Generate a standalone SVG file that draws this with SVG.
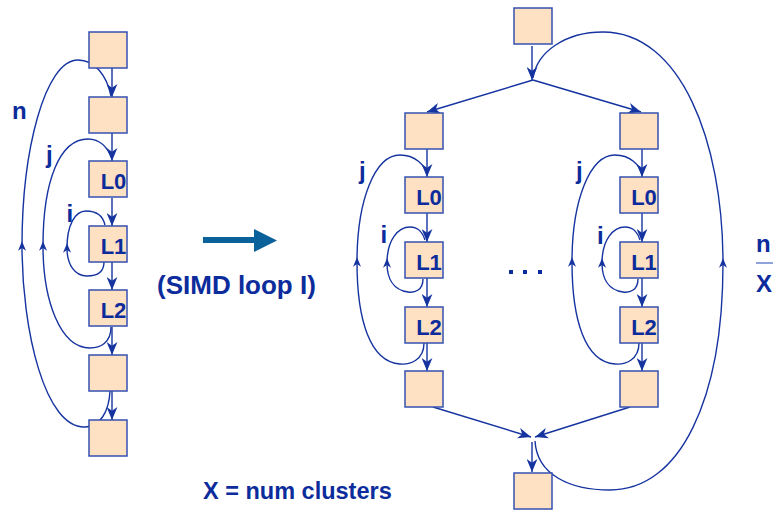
<svg xmlns="http://www.w3.org/2000/svg" width="778" height="511" viewBox="0 0 778 511">
  <style>
    .box { fill: #fee0c2; stroke: #3450b0; stroke-width: 1.5; }
    .lbl { font-family: "Liberation Sans", Arial, sans-serif; font-weight: bold; fill: #0c2c9c; }
    .box-lbl { font-size: 22px; text-anchor: middle; }
    .loop-lbl { font-size: 24px; }
    .edge { fill: none; stroke: #1634a0; stroke-width: 1.4; }
    .arr { marker-end: url(#head); }
    .up { marker-end: url(#headSmall); }
  </style>
  <defs>
    <marker id="head" viewBox="0 0 12 10" refX="12" refY="5" markerWidth="13" markerHeight="11" markerUnits="userSpaceOnUse" orient="auto">
      <path d="M0,0 L12,5 L0,10 L3.5,5 z" fill="#1634a0"/>
    </marker>
    <marker id="headSmall" viewBox="0 0 12 10" refX="6" refY="5" markerWidth="11" markerHeight="8" markerUnits="userSpaceOnUse" orient="auto">
      <path d="M0,0 L12,5 L0,10 L3.5,5 z" fill="#1634a0"/>
    </marker>
  </defs>

  <!-- connectors -->
  <g id="connectors">
    <!-- left: sequential loop nest -->
    <path class="edge arr" d="M112 68 V97"/>
    <path class="edge arr" d="M112 133 V161"/>
    <path class="edge arr" d="M112 198 V226"/>
    <path class="edge arr" d="M112 262 V290"/>
    <path class="edge arr" d="M112 327 V355"/>
    <path class="edge arr" d="M112 391 V420"/>
    <!-- n loop -->
    <path class="edge up" d="M110 391 C109 412 100 426 86 427 C45 430 22 330 22 246"/>
    <path class="edge" d="M22 246 C22 150 45 60 78 60 C95 60 107 76 111 96"/>
    <!-- j loop -->
    <path class="edge up" d="M111 327 C111 343 100 348 90 348 C60 348 43 300 43 246"/>
    <path class="edge" d="M43 246 C43 180 60 139 88 139 C100 139 108 148 112 159"/>
    <!-- i loop -->
    <path class="edge up" d="M104 262 C104 273 96 276 87 276 C75 276 67 265 67 248"/>
    <path class="edge" d="M67 248 C67 225 75 211 86 211 C96 211 103 216 105 225"/>

    <!-- transform arrow -->
    <path d="M203 240 H256" fill="none" stroke="#0b6199" stroke-width="6"/>
    <path d="M254 229 L277 240.5 L254 252 z" fill="#0b6199"/>

    <!-- right: fork -->
    <path class="edge arr" d="M532 46 V80"/>
    <path class="edge arr" d="M533 80 L427 112"/>
    <path class="edge arr" d="M533 80 L641 112"/>

    <!-- right: left cluster -->
    <path class="edge arr" d="M427 149 V177"/>
    <path class="edge arr" d="M427 213 V242"/>
    <path class="edge arr" d="M427 278 V307"/>
    <path class="edge arr" d="M427 343 V371"/>
    <path class="edge up" d="M424 343 C424 360 410 365 400 364 C370 362 357 320 357 262"/>
    <path class="edge" d="M357 262 C357 200 375 155 400 155 C415 155 425 165 427 175"/>
    <path class="edge up" d="M423 279 C423 290 415 293 408 292 C393 290 387 278 387 263"/>
    <path class="edge" d="M387 263 C387 240 398 227 410 227 C418 227 423 233 425 240"/>

    <!-- right: right cluster -->
    <g transform="translate(215 0)">
      <path class="edge arr" d="M427 149 V177"/>
      <path class="edge arr" d="M427 213 V242"/>
      <path class="edge arr" d="M427 278 V307"/>
      <path class="edge arr" d="M427 343 V371"/>
      <path class="edge up" d="M424 343 C424 360 410 365 400 364 C370 362 357 320 357 262"/>
      <path class="edge" d="M357 262 C357 200 375 155 400 155 C415 155 425 165 427 175"/>
      <path class="edge up" d="M423 279 C423 290 415 293 408 292 C393 290 387 278 387 263"/>
      <path class="edge" d="M387 263 C387 240 398 227 410 227 C418 227 423 233 425 240"/>
    </g>

    <!-- right: join -->
    <path class="edge arr" d="M433 407 L531 437"/>
    <path class="edge arr" d="M630 407 L535 437"/>
    <path class="edge arr" d="M532 442 V472"/>

    <!-- n/X outer loop -->
    <path class="edge up" d="M535 441 C537 475 570 490 610 490 C680 490 723 400 723 263"/>
    <path class="edge" d="M723 263 C723 140 680 32 603 32 C565 32 537 52 533 78"/>
  </g>

  <!-- left nodes -->
  <g id="seq-pre1"><rect class="box" x="89" y="32" width="38" height="36"/></g>
  <g id="seq-pre2"><rect class="box" x="89" y="97" width="38" height="36"/></g>
  <g id="seq-L0"><rect class="box" x="89" y="161" width="38" height="36"/><text class="lbl box-lbl" x="113.5" y="189">L0</text></g>
  <g id="seq-L1"><rect class="box" x="89" y="226" width="38" height="36"/><text class="lbl box-lbl" x="113.5" y="254">L1</text></g>
  <g id="seq-L2"><rect class="box" x="89" y="290" width="38" height="36"/><text class="lbl box-lbl" x="113.5" y="318">L2</text></g>
  <g id="seq-post1"><rect class="box" x="89" y="355" width="38" height="36"/></g>
  <g id="seq-post2"><rect class="box" x="89" y="420" width="38" height="36"/></g>

  <g id="seq-labels">
    <text class="lbl loop-lbl" x="12" y="119">n</text>
    <text class="lbl loop-lbl" x="46" y="163">j</text>
    <text class="lbl loop-lbl" x="66.5" y="222">i</text>
  </g>

  <g id="caption-simd"><text class="lbl" x="157" y="294" font-size="26">(SIMD loop I)</text></g>

  <!-- right nodes -->
  <g id="par-top"><rect class="box" x="514" y="8" width="38" height="36"/></g>

  <g id="c1-pre"><rect class="box" x="405" y="113" width="38" height="36"/></g>
  <g id="c1-L0"><rect class="box" x="405" y="177" width="38" height="36"/><text class="lbl box-lbl" x="429" y="205">L0</text></g>
  <g id="c1-L1"><rect class="box" x="405" y="242" width="38" height="36"/><text class="lbl box-lbl" x="429" y="270">L1</text></g>
  <g id="c1-L2"><rect class="box" x="405" y="307" width="38" height="36"/><text class="lbl box-lbl" x="429" y="335">L2</text></g>
  <g id="c1-post"><rect class="box" x="405" y="371" width="38" height="36"/></g>

  <g id="c2-pre"><rect class="box" x="620" y="113" width="38" height="36"/></g>
  <g id="c2-L0"><rect class="box" x="620" y="177" width="38" height="36"/><text class="lbl box-lbl" x="644" y="205">L0</text></g>
  <g id="c2-L1"><rect class="box" x="620" y="242" width="38" height="36"/><text class="lbl box-lbl" x="644" y="270">L1</text></g>
  <g id="c2-L2"><rect class="box" x="620" y="307" width="38" height="36"/><text class="lbl box-lbl" x="644" y="335">L2</text></g>
  <g id="c2-post"><rect class="box" x="620" y="371" width="38" height="36"/></g>

  <g id="par-bottom"><rect class="box" x="514" y="473" width="38" height="36"/></g>

  <g id="par-labels">
    <text class="lbl loop-lbl" x="359" y="179">j</text>
    <text class="lbl loop-lbl" x="380.5" y="243">i</text>
    <text class="lbl loop-lbl" x="576" y="179">j</text>
    <text class="lbl loop-lbl" x="597" y="244">i</text>
    <rect x="509" y="270" width="4" height="4" fill="#0c2c9c"/>
    <rect x="523" y="270" width="4" height="4" fill="#0c2c9c"/>
    <rect x="538" y="270" width="4" height="4" fill="#0c2c9c"/>
    <text class="lbl loop-lbl" x="756" y="252">n</text>
    <line x1="756" y1="263" x2="773" y2="263" stroke="#8fa2dc" stroke-width="2"/>
    <text class="lbl loop-lbl" x="756" y="292">X</text>
  </g>

  <g id="caption-x"><text class="lbl" x="203" y="499" font-size="23.5">X = num clusters</text></g>
</svg>
